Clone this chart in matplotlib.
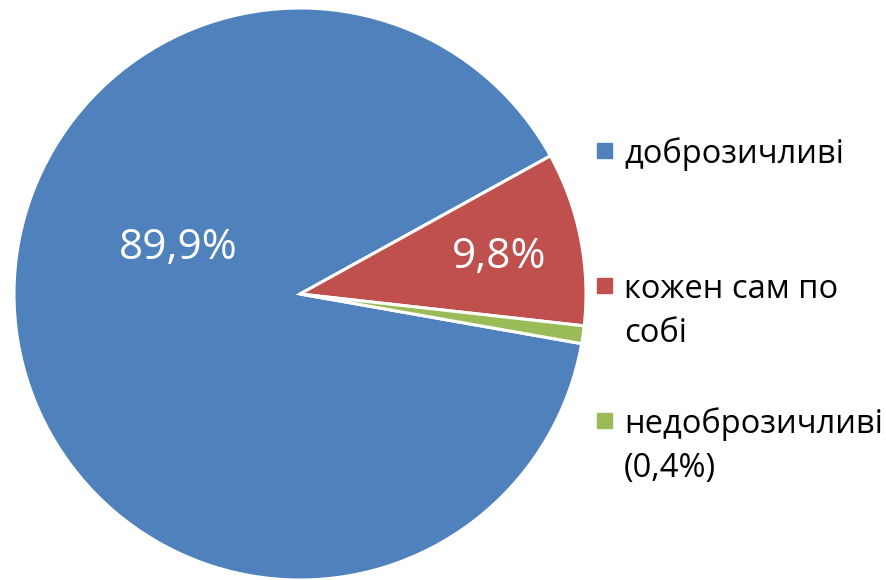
import matplotlib
matplotlib.use("Agg")
import matplotlib.pyplot as plt
import numpy as np
from matplotlib.patches import Rectangle

plt.rcParams['font.family'] = ['Open Sans', 'DejaVu Sans']

categories = ['доброзичливі', 'кожен сам по\nсобі', 'недоброзичливі\n(0,4%)']
shares = [89.2, 9.8, 1.0]
slice_labels = ['89,9%', '9,8%', '']
colors = ['#4F81BD', '#C0504D', '#9BBB59']

W, H = 886, 580
fig = plt.figure(figsize=(W / 100, H / 100), dpi=100)

# pie centre (300, 294) px, radius 286 px
cx, cy, r = 300, 294, 286
ax = fig.add_axes([(cx - r) / W, (H - cy - r) / H, 2 * r / W, 2 * r / H])
wedges, _ = ax.pie(shares, colors=colors, startangle=-10.0, counterclock=False,
                   wedgeprops=dict(edgecolor='white', linewidth=2.2))
ax.set_xlim(-1, 1)
ax.set_ylim(-1, 1)
ax.set_aspect('equal')
ax.axis('off')

# label positions as (angle deg, radius fraction)
label_pos = [(158, 0.46), (11.3, 0.71), (0, 0)]
for lab, (ang, rr) in zip(slice_labels, label_pos):
    if lab:
        t = np.radians(ang)
        ax.text(rr * np.cos(t), rr * np.sin(t) - 0.01, lab, color='white',
                fontsize=30.5, ha='center', va='center')

# legend drawn by hand: baseline of first line of each entry (px from top)
leg_base = [163, 298, 433]
for cat, col, yb in zip(categories, colors, leg_base):
    fig.patches.append(Rectangle((597 / W, 1 - (yb - 5) / H), 15 / W, 15 / H,
                                 transform=fig.transFigure, color=col))
    for i, line in enumerate(cat.split('\n')):
        fig.text(624 / W, 1 - (yb + 44 * i) / H, line, fontsize=23.5,
                 ha='left', va='baseline', color='black')

fig.savefig('out.png', dpi=100)
